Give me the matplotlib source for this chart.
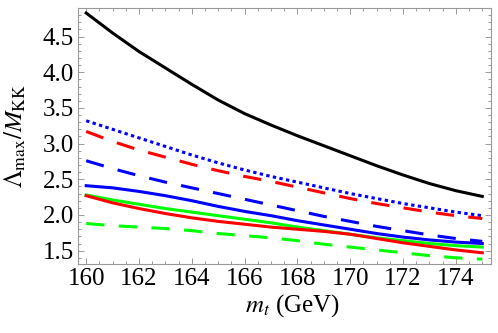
import numpy as np
import matplotlib
matplotlib.use('Agg')
import matplotlib.pyplot as plt
from matplotlib.ticker import MultipleLocator, FormatStrFormatter

# top quark mass (GeV)
mt = [160, 161, 162, 163, 164, 165, 166, 167, 168, 169, 170, 171, 172, 173, 174, 175]

black_solid = [4.83, 4.55, 4.29, 4.06, 3.83, 3.61, 3.42, 3.26, 3.11, 2.97, 2.83, 2.69, 2.56, 2.44, 2.34, 2.26]
blue_dotted = [3.32, 3.20, 3.08, 2.96, 2.84, 2.73, 2.63, 2.54, 2.46, 2.38, 2.30, 2.23, 2.16, 2.10, 2.04, 1.99]
red_dashed = [3.17, 3.03, 2.91, 2.81, 2.71, 2.62, 2.54, 2.47, 2.39, 2.31, 2.23, 2.16, 2.10, 2.04, 1.99, 1.95]
blue_dashed = [2.76, 2.65, 2.55, 2.46, 2.38, 2.30, 2.22, 2.14, 2.06, 1.98, 1.91, 1.84, 1.78, 1.72, 1.67, 1.63]
blue_solid = [2.41, 2.38, 2.33, 2.27, 2.20, 2.12, 2.05, 1.99, 1.92, 1.86, 1.80, 1.74, 1.69, 1.65, 1.62, 1.60]
green_solid = [2.28, 2.21, 2.15, 2.09, 2.04, 1.99, 1.94, 1.89, 1.83, 1.78, 1.73, 1.68, 1.64, 1.60, 1.57, 1.55]
red_solid = [2.27, 2.17, 2.09, 2.02, 1.96, 1.91, 1.87, 1.83, 1.80, 1.77, 1.73, 1.67, 1.61, 1.56, 1.51, 1.47]
green_dashed = [1.88, 1.85, 1.83, 1.81, 1.78, 1.74, 1.71, 1.68, 1.64, 1.59, 1.55, 1.51, 1.47, 1.43, 1.40, 1.38]

plt.rcParams['font.family'] = 'Liberation Serif'
plt.rcParams['mathtext.fontset'] = 'stix'

LW = 2.2
FS = 18
dash = (0, (6.0, 4.7))
dot = (0, (1.1, 1.1))

fig = plt.figure(figsize=(4.98, 3.33), dpi=100)
ax = fig.add_axes([78 / 498, 1 - 264 / 333, (491 - 78) / 498, (264 - 8) / 333])

ax.plot(mt, black_solid, color='black', lw=LW)
ax.plot(mt, blue_dotted, color=(0, 0, 1), lw=LW, linestyle=dot, dash_capstyle='butt')
ax.plot(mt, red_dashed, color=(1, 0, 0), lw=LW, linestyle=dash)
ax.plot(mt, blue_dashed, color=(0, 0, 1), lw=LW, linestyle=dash)
ax.plot(mt, blue_solid, color=(0, 0, 1), lw=LW)
ax.plot(mt, green_solid, color=(0, 1, 0), lw=LW)
ax.plot(mt, red_solid, color=(1, 0, 0), lw=LW)
ax.plot(mt, green_dashed, color=(0, 1, 0), lw=LW, linestyle=dash)

ax.set_xlim(159.69, 175.33)
ax.set_ylim(1.313, 4.90)
ax.xaxis.set_major_locator(MultipleLocator(2))
ax.xaxis.set_minor_locator(MultipleLocator(0.5))
ax.yaxis.set_major_locator(MultipleLocator(0.5))
ax.yaxis.set_minor_locator(MultipleLocator(0.1))
ax.yaxis.set_major_formatter(FormatStrFormatter('%.1f'))

frame = '#999999'
for s in ax.spines.values():
    s.set_color(frame)
    s.set_linewidth(0.8)
ax.tick_params(which='both', direction='in', top=True, right=True, color=frame, width=0.7)
ax.tick_params(which='major', length=4.5, labelsize=FS)
ax.tick_params(which='minor', length=2.5)
ax.tick_params(axis='x', pad=3)
ax.tick_params(axis='y', pad=3)

ax.set_xlabel(r'$m_t$ (GeV)', fontsize=FS)
ax.xaxis.set_label_coords(0.519, -0.11)
ax.set_ylabel(r'$\Lambda_{\rm max}/M_{\rm KK}$', fontsize=FS)
ax.yaxis.set_label_coords(-0.12, 0.5)

fig.savefig('out.png', dpi=100)
